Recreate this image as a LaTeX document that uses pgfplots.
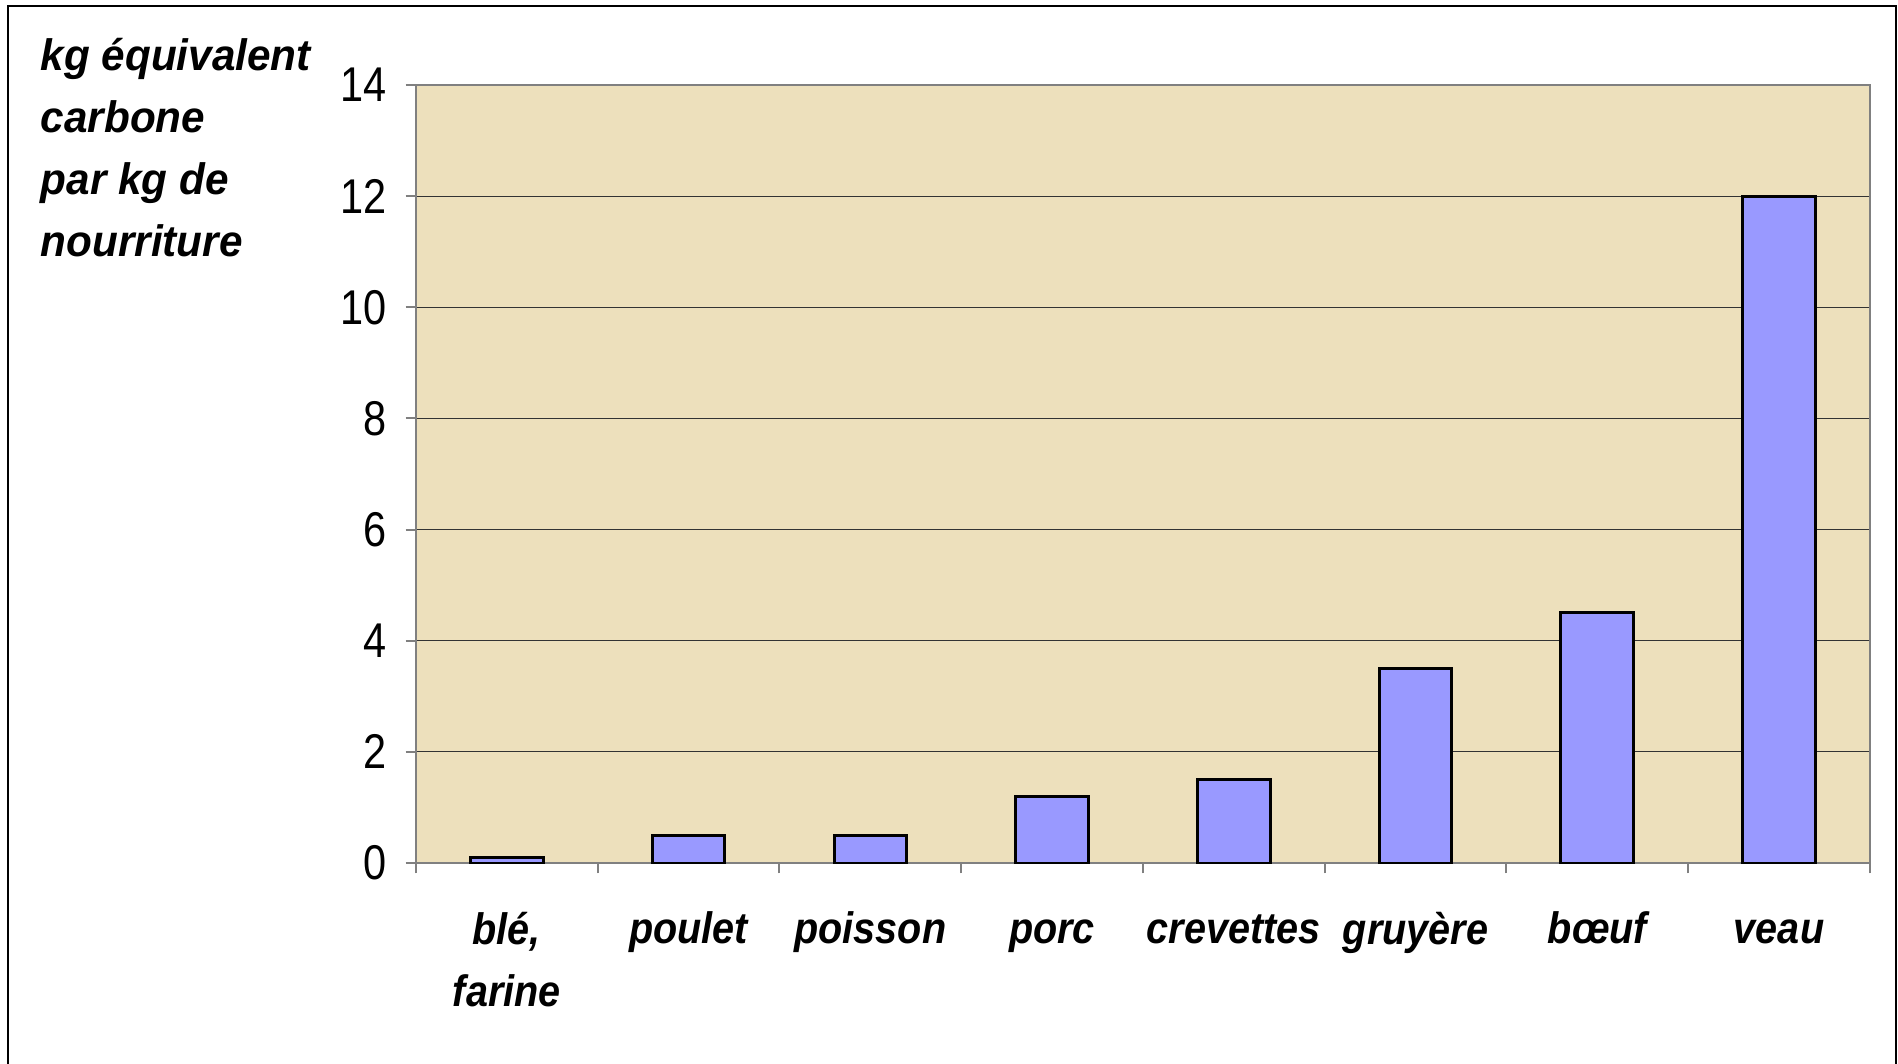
\documentclass[border=0pt]{standalone}
\usepackage{fontspec}
\setmainfont{Liberation Sans}
\newfontfamily\labfont{Liberation Sans}[FakeStretch=0.9]
\newfontfamily\ylabfont{Liberation Sans}[FakeStretch=0.96]
\newfontfamily\tickfont{Liberation Sans}[FakeStretch=0.85]
\usepackage{pgfplots}
\pgfplotsset{compat=1.18}

\definecolor{sable}{RGB}{237,224,188}
\definecolor{barblue}{RGB}{153,153,255}

\begin{document}
\begin{tikzpicture}
  \begin{axis}[
      scale only axis, width=363.5pt, height=194.5pt,
      axis background/.style={fill=sable},
      xmin=-0.5, xmax=7.5, ymin=0, ymax=14,
      ytick={0,2,...,14},
      xtick={-0.5,0.5,...,7.5}, xticklabels={},
      extra x ticks={0,1,...,7},
      extra x tick labels={{\rule{0pt}{8pt}blé,\\farine},{\rule{0pt}{8pt}poulet},{\rule{0pt}{8pt}poisson},{\rule{0pt}{8pt}porc},{\rule{0pt}{8pt}crevettes},{\rule{0pt}{8pt}gruyère},{\rule{0pt}{8pt}bœuf},{\rule{0pt}{8pt}veau}},
      extra x tick style={major tick length=0pt, grid=none},
      xticklabel style={anchor=north, inner sep=0pt, yshift=-12pt, align=center,
        font=\labfont\bfseries\itshape\fontsize{11}{15.5}\selectfont},
      yticklabel style={anchor=east, inner sep=0pt, xshift=-4.5pt,
        font=\tickfont\fontsize{12.2}{14}\selectfont},
      /pgf/number format/assume math mode=true,
      xtick pos=bottom, ytick pos=left,
      tick align=outside, major tick length=2.6pt,
      tick style={draw=gray, line width=0.5pt},
      axis line style={draw=gray, line width=0.6pt},
      ymajorgrids, grid style={draw=black!80, line width=0.3pt},
      ybar, bar width=0.4,
    ]
    \addplot[fill=barblue, draw=black, line width=0.75pt]
      coordinates {(0,0.1) (1,0.5) (2,0.5) (3,1.2) (4,1.5) (5,3.5) (6,4.5) (7,12)};
  \end{axis}
  \begin{scope}[every node/.style={anchor=base west, inner sep=0pt,
      font=\ylabfont\bfseries\itshape\fontsize{11}{15.5}\selectfont}]
    \node at (-94pt,198.25pt) {kg équivalent};
    \node at (-94pt,182.75pt) {carbone};
    \node at (-94pt,167.25pt) {par kg de};
    \node at (-94pt,151.75pt) {nourriture};
  \end{scope}
  \draw[black, line width=0.5pt] (-102pt,-51pt) -- (-102pt,214.25pt) -- (370pt,214.25pt) -- (370pt,-51pt);
  \pgfresetboundingbox
  \path[use as bounding box] (-104pt,-50pt) rectangle (370.5pt,215.75pt);
\end{tikzpicture}
\end{document}
